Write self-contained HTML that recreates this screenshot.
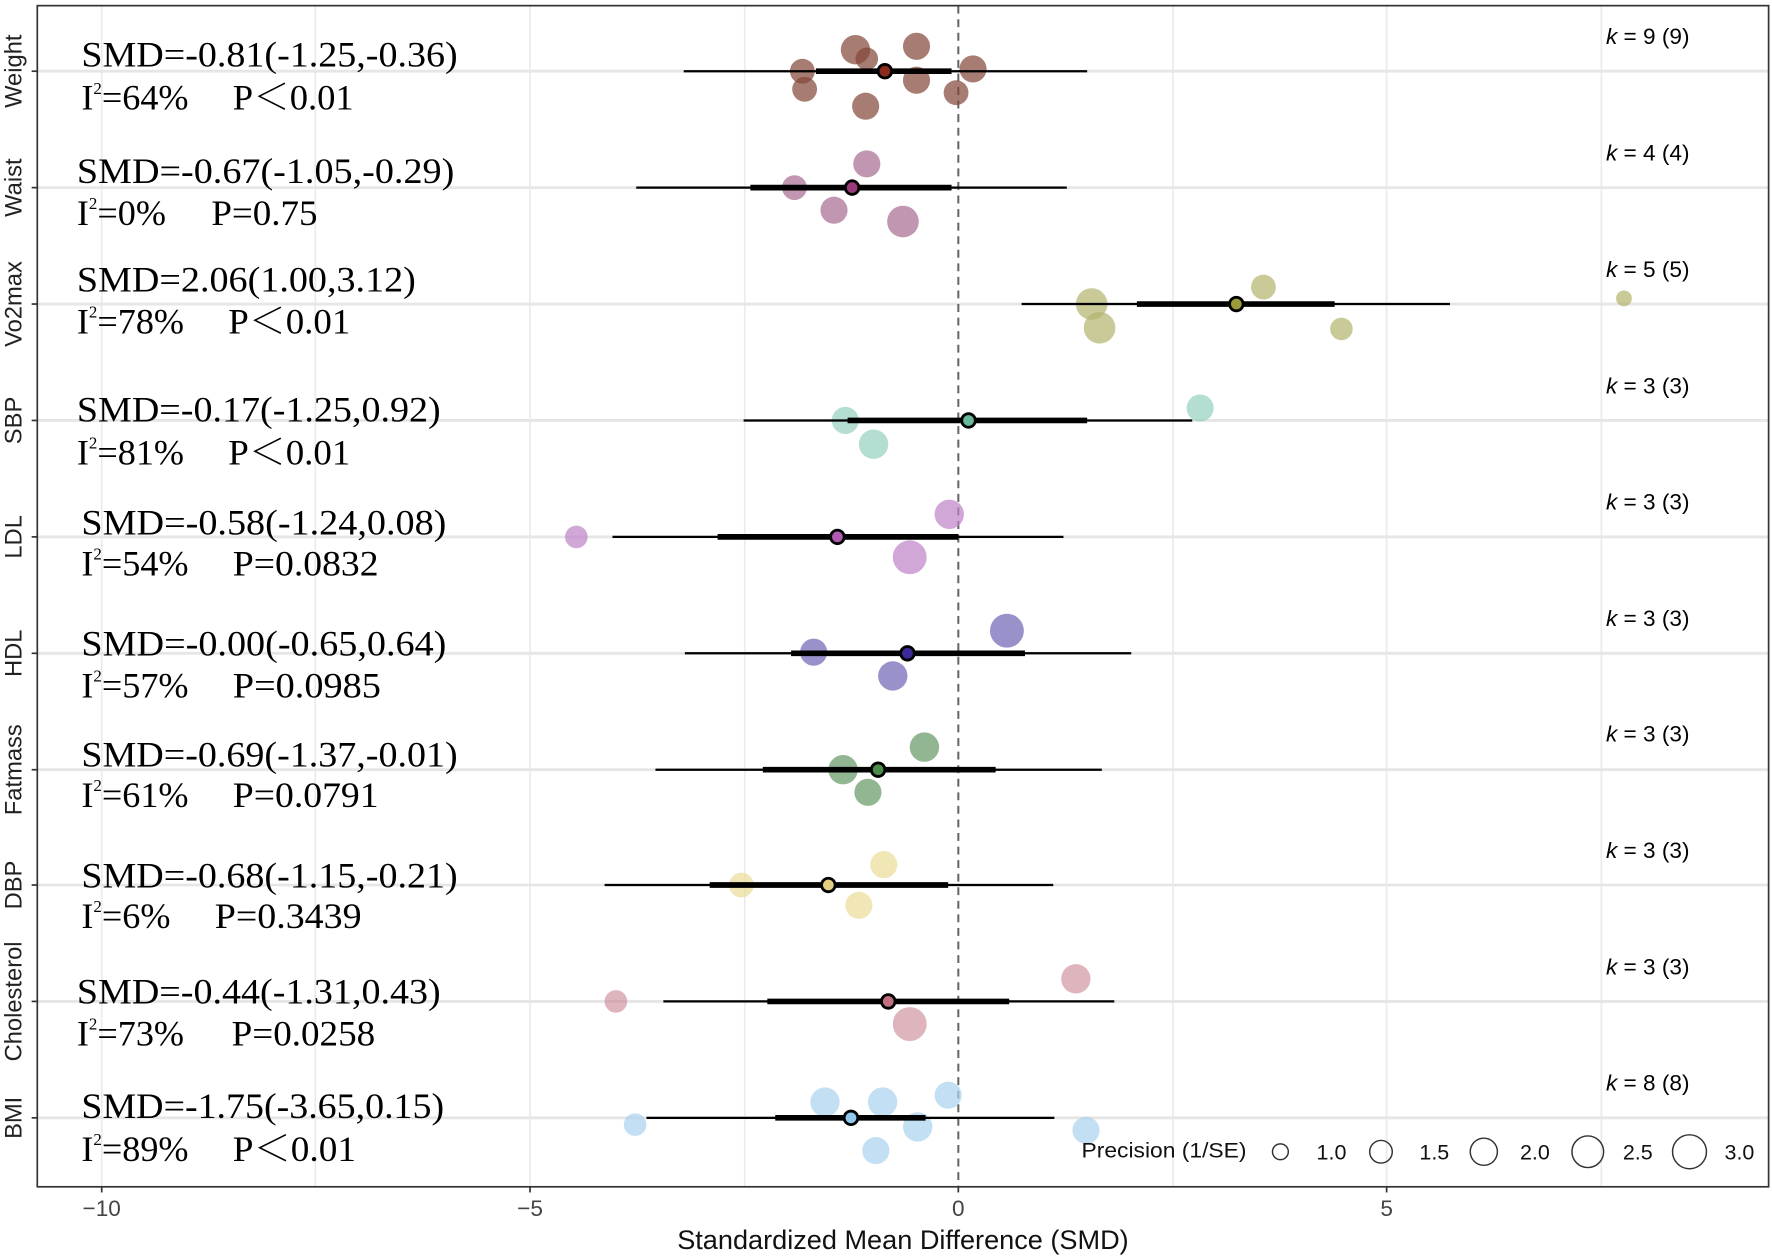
<!DOCTYPE html>
<html><head><meta charset="utf-8"><style>
html,body{margin:0;padding:0;background:#fff;}
svg{display:block;}
.t{font-family:"Liberation Serif","Noto Serif CJK SC",serif;font-size:32px;fill:#000;}
.s{font-family:"Liberation Sans",sans-serif;}
</style></head><body>
<svg width="1772" height="1258" viewBox="0 0 1568 1113" preserveAspectRatio="none" xmlns="http://www.w3.org/2000/svg">
<rect x="0" y="0" width="1568" height="1113" fill="#fff"/>
<g stroke="#ebebeb" stroke-width="1.5">
<line x1="90" y1="5" x2="90" y2="1050"/><line x1="279" y1="5" x2="279" y2="1050"/><line x1="469" y1="5" x2="469" y2="1050"/><line x1="659" y1="5" x2="659" y2="1050"/><line x1="1038" y1="5" x2="1038" y2="1050"/><line x1="1227" y1="5" x2="1227" y2="1050"/><line x1="1417" y1="5" x2="1417" y2="1050"/>
</g>
<g stroke="#e6e6e6" stroke-width="2.5">
<line x1="33" y1="63" x2="1565" y2="63"/><line x1="33" y1="166" x2="1565" y2="166"/><line x1="33" y1="269" x2="1565" y2="269"/><line x1="33" y1="372" x2="1565" y2="372"/><line x1="33" y1="475" x2="1565" y2="475"/><line x1="33" y1="578" x2="1565" y2="578"/><line x1="33" y1="681" x2="1565" y2="681"/><line x1="33" y1="783" x2="1565" y2="783"/><line x1="33" y1="886" x2="1565" y2="886"/><line x1="33" y1="989" x2="1565" y2="989"/>
</g>
<line x1="848" y1="5" x2="848" y2="1050" stroke="#666" stroke-width="1.8" stroke-dasharray="7,5"/>
<g fill="rgba(130,70,55,0.7)">
<circle cx="757" cy="44" r="13"/><circle cx="811" cy="41" r="12"/><circle cx="767" cy="52" r="10"/><circle cx="861" cy="61" r="12"/><circle cx="710" cy="63" r="11"/><circle cx="811" cy="71" r="12"/><circle cx="712" cy="79" r="11"/><circle cx="846" cy="82" r="11"/><circle cx="766" cy="94" r="12"/></g>
<g fill="rgba(150,80,125,0.6)"><circle cx="767" cy="145" r="12"/><circle cx="703" cy="166" r="11"/><circle cx="738" cy="186" r="12"/><circle cx="799" cy="196" r="14"/></g>
<g fill="rgba(180,180,110,0.7)"><circle cx="1118" cy="254" r="11"/><circle cx="966" cy="269" r="14"/><circle cx="973" cy="290" r="14"/><circle cx="1187" cy="291" r="10"/><circle cx="1437" cy="264" r="7"/></g>
<g fill="rgba(130,200,180,0.6)"><circle cx="1062" cy="361" r="12"/><circle cx="748" cy="372" r="12"/><circle cx="773" cy="393" r="13"/></g>
<g fill="rgba(190,130,200,0.7)"><circle cx="840" cy="455" r="13"/><circle cx="510" cy="475" r="10"/><circle cx="805" cy="493" r="15"/></g>
<g fill="rgba(110,100,180,0.7)"><circle cx="891" cy="558" r="15"/><circle cx="720" cy="577" r="12"/><circle cx="790" cy="598" r="13"/></g>
<g fill="rgba(100,150,100,0.7)"><circle cx="818" cy="661" r="13"/><circle cx="746" cy="681" r="13"/><circle cx="768" cy="701" r="12"/></g>
<g fill="rgba(235,220,150,0.7)"><circle cx="782" cy="765" r="12"/><circle cx="656" cy="783" r="11"/><circle cx="760" cy="801" r="12"/></g>
<g fill="rgba(200,130,145,0.6)"><circle cx="952" cy="866" r="13"/><circle cx="545" cy="886" r="10"/><circle cx="805" cy="906" r="15"/></g>
<g fill="rgba(170,210,240,0.7)"><circle cx="730" cy="975" r="13"/><circle cx="781" cy="975" r="13"/><circle cx="839" cy="969" r="12"/><circle cx="562" cy="995" r="10"/><circle cx="812" cy="997" r="13"/><circle cx="961" cy="1000" r="12"/><circle cx="775" cy="1018" r="12"/></g>
<g stroke="#000">
<g stroke-width="2"><line x1="605" y1="63" x2="962" y2="63"/><line x1="563" y1="166" x2="944" y2="166"/><line x1="904" y1="269" x2="1283" y2="269"/><line x1="658" y1="372" x2="1055" y2="372"/><line x1="542" y1="475" x2="941" y2="475"/><line x1="606" y1="578" x2="1001" y2="578"/><line x1="580" y1="681" x2="975" y2="681"/><line x1="535" y1="783" x2="932" y2="783"/><line x1="587" y1="886" x2="986" y2="886"/><line x1="572" y1="989" x2="933" y2="989"/></g>
<g stroke-width="5"><line x1="722" y1="63" x2="842" y2="63"/><line x1="664" y1="166" x2="842" y2="166"/><line x1="1006" y1="269" x2="1181" y2="269"/><line x1="750" y1="372" x2="962" y2="372"/><line x1="635" y1="475" x2="848" y2="475"/><line x1="700" y1="578" x2="907" y2="578"/><line x1="675" y1="681" x2="881" y2="681"/><line x1="628" y1="783" x2="839" y2="783"/><line x1="679" y1="886" x2="893" y2="886"/><line x1="686" y1="989" x2="819" y2="989"/></g>
<g stroke-width="2.5">
<circle cx="783" cy="63" r="6" fill="#8b2a1e"/><circle cx="754" cy="166" r="6" fill="#9b3a7a"/><circle cx="1094" cy="269" r="6" fill="#9a9a3a"/><circle cx="857" cy="372" r="6" fill="#6ab89a"/><circle cx="741" cy="475" r="6" fill="#b05ab0"/><circle cx="803" cy="578" r="6" fill="#3a2a9a"/><circle cx="777" cy="681" r="6" fill="#4a8a4a"/><circle cx="733" cy="783" r="6" fill="#e0d080"/><circle cx="786" cy="886" r="6" fill="#c07080"/><circle cx="753" cy="989" r="6" fill="#90c8f0"/></g>
</g>
<rect x="33" y="5" width="1532" height="1045" fill="none" stroke="#333" stroke-width="1.5"/>
<g class="t">
<text x="72" y="59" textLength="333" lengthAdjust="spacingAndGlyphs">SMD=-0.81(-1.25,-0.36)</text>
<text x="72" y="97">I<tspan font-size="15" dy="-14">2</tspan><tspan dy="14">=64%</tspan></text>
<text x="206" y="97" textLength="107" lengthAdjust="spacingAndGlyphs">P＜0.01</text>
<text x="68" y="162" textLength="334" lengthAdjust="spacingAndGlyphs">SMD=-0.67(-1.05,-0.29)</text>
<text x="68" y="199">I<tspan font-size="15" dy="-14">2</tspan><tspan dy="14">=0%</tspan></text>
<text x="187" y="199" textLength="94" lengthAdjust="spacingAndGlyphs">P=0.75</text>
<text x="68" y="258" textLength="300" lengthAdjust="spacingAndGlyphs">SMD=2.06(1.00,3.12)</text>
<text x="68" y="295">I<tspan font-size="15" dy="-14">2</tspan><tspan dy="14">=78%</tspan></text>
<text x="202" y="295" textLength="108" lengthAdjust="spacingAndGlyphs">P＜0.01</text>
<text x="68" y="373" textLength="322" lengthAdjust="spacingAndGlyphs">SMD=-0.17(-1.25,0.92)</text>
<text x="68" y="411">I<tspan font-size="15" dy="-14">2</tspan><tspan dy="14">=81%</tspan></text>
<text x="202" y="411" textLength="108" lengthAdjust="spacingAndGlyphs">P＜0.01</text>
<text x="72" y="473" textLength="323" lengthAdjust="spacingAndGlyphs">SMD=-0.58(-1.24,0.08)</text>
<text x="72" y="509">I<tspan font-size="15" dy="-14">2</tspan><tspan dy="14">=54%</tspan></text>
<text x="206" y="509" textLength="129" lengthAdjust="spacingAndGlyphs">P=0.0832</text>
<text x="72" y="580" textLength="323" lengthAdjust="spacingAndGlyphs">SMD=-0.00(-0.65,0.64)</text>
<text x="72" y="617">I<tspan font-size="15" dy="-14">2</tspan><tspan dy="14">=57%</tspan></text>
<text x="206" y="617" textLength="131" lengthAdjust="spacingAndGlyphs">P=0.0985</text>
<text x="72" y="678" textLength="333" lengthAdjust="spacingAndGlyphs">SMD=-0.69(-1.37,-0.01)</text>
<text x="72" y="714">I<tspan font-size="15" dy="-14">2</tspan><tspan dy="14">=61%</tspan></text>
<text x="206" y="714" textLength="129" lengthAdjust="spacingAndGlyphs">P=0.0791</text>
<text x="72" y="785" textLength="333" lengthAdjust="spacingAndGlyphs">SMD=-0.68(-1.15,-0.21)</text>
<text x="72" y="821">I<tspan font-size="15" dy="-14">2</tspan><tspan dy="14">=6%</tspan></text>
<text x="190" y="821" textLength="130" lengthAdjust="spacingAndGlyphs">P=0.3439</text>
<text x="68" y="888" textLength="322" lengthAdjust="spacingAndGlyphs">SMD=-0.44(-1.31,0.43)</text>
<text x="68" y="925">I<tspan font-size="15" dy="-14">2</tspan><tspan dy="14">=73%</tspan></text>
<text x="205" y="925" textLength="127" lengthAdjust="spacingAndGlyphs">P=0.0258</text>
<text x="72" y="989" textLength="321" lengthAdjust="spacingAndGlyphs">SMD=-1.75(-3.65,0.15)</text>
<text x="72" y="1027">I<tspan font-size="15" dy="-14">2</tspan><tspan dy="14">=89%</tspan></text>
<text x="206" y="1027" textLength="109" lengthAdjust="spacingAndGlyphs">P＜0.01</text>
</g>
<g class="s" font-size="20" text-anchor="end">
<text x="1495" y="39"><tspan font-style="italic">k</tspan> = 9 (9)</text>
<text x="1495" y="142"><tspan font-style="italic">k</tspan> = 4 (4)</text>
<text x="1495" y="245"><tspan font-style="italic">k</tspan> = 5 (5)</text>
<text x="1495" y="348"><tspan font-style="italic">k</tspan> = 3 (3)</text>
<text x="1495" y="451"><tspan font-style="italic">k</tspan> = 3 (3)</text>
<text x="1495" y="554"><tspan font-style="italic">k</tspan> = 3 (3)</text>
<text x="1495" y="656"><tspan font-style="italic">k</tspan> = 3 (3)</text>
<text x="1495" y="759"><tspan font-style="italic">k</tspan> = 3 (3)</text>
<text x="1495" y="862"><tspan font-style="italic">k</tspan> = 3 (3)</text>
<text x="1495" y="965"><tspan font-style="italic">k</tspan> = 8 (8)</text>
</g>
<g class="s" font-size="21" fill="#222" text-anchor="middle">
<text transform="translate(19,63) rotate(-90)">Weight</text>
<text transform="translate(19,166) rotate(-90)">Waist</text>
<text transform="translate(19,269) rotate(-90)">Vo2max</text>
<text transform="translate(19,372) rotate(-90)">SBP</text>
<text transform="translate(19,475) rotate(-90)">LDL</text>
<text transform="translate(19,578) rotate(-90)">HDL</text>
<text transform="translate(19,681) rotate(-90)">Fatmass</text>
<text transform="translate(19,783) rotate(-90)">DBP</text>
<text transform="translate(19,886) rotate(-90)">Cholesterol</text>
<text transform="translate(19,989) rotate(-90)">BMI</text>
</g>
<g stroke="#333" stroke-width="1.5">
<line x1="28" y1="63" x2="33" y2="63"/><line x1="28" y1="166" x2="33" y2="166"/><line x1="28" y1="269" x2="33" y2="269"/><line x1="28" y1="372" x2="33" y2="372"/><line x1="28" y1="475" x2="33" y2="475"/><line x1="28" y1="578" x2="33" y2="578"/><line x1="28" y1="681" x2="33" y2="681"/><line x1="28" y1="783" x2="33" y2="783"/><line x1="28" y1="886" x2="33" y2="886"/><line x1="28" y1="989" x2="33" y2="989"/>
<line x1="90" y1="1050" x2="90" y2="1055"/><line x1="469" y1="1050" x2="469" y2="1055"/><line x1="848" y1="1050" x2="848" y2="1055"/><line x1="1227" y1="1050" x2="1227" y2="1055"/>
</g>
<g class="s" font-size="20" fill="#444" text-anchor="middle">
<text x="90" y="1076">−10</text><text x="469" y="1076">−5</text><text x="848" y="1076">0</text><text x="1227" y="1076">5</text>
</g>
<text class="s" x="799" y="1105" font-size="24" text-anchor="middle" fill="#111">Standardized Mean Difference (SMD)</text>
<g class="s" font-size="19" fill="#111">
<text x="957" y="1024" textLength="146" lengthAdjust="spacingAndGlyphs">Precision (1/SE)</text>
<text x="1165" y="1026">1.0</text><text x="1256" y="1026">1.5</text><text x="1345" y="1026">2.0</text><text x="1436" y="1026">2.5</text><text x="1526" y="1026">3.0</text>
</g>
<g fill="none" stroke="#333" stroke-width="1.3">
<circle cx="1133" cy="1019" r="7"/><circle cx="1222" cy="1019" r="10"/><circle cx="1313" cy="1019" r="12"/><circle cx="1405" cy="1019" r="14"/><circle cx="1495" cy="1019" r="15"/>
</g>
</svg>
</body></html>
